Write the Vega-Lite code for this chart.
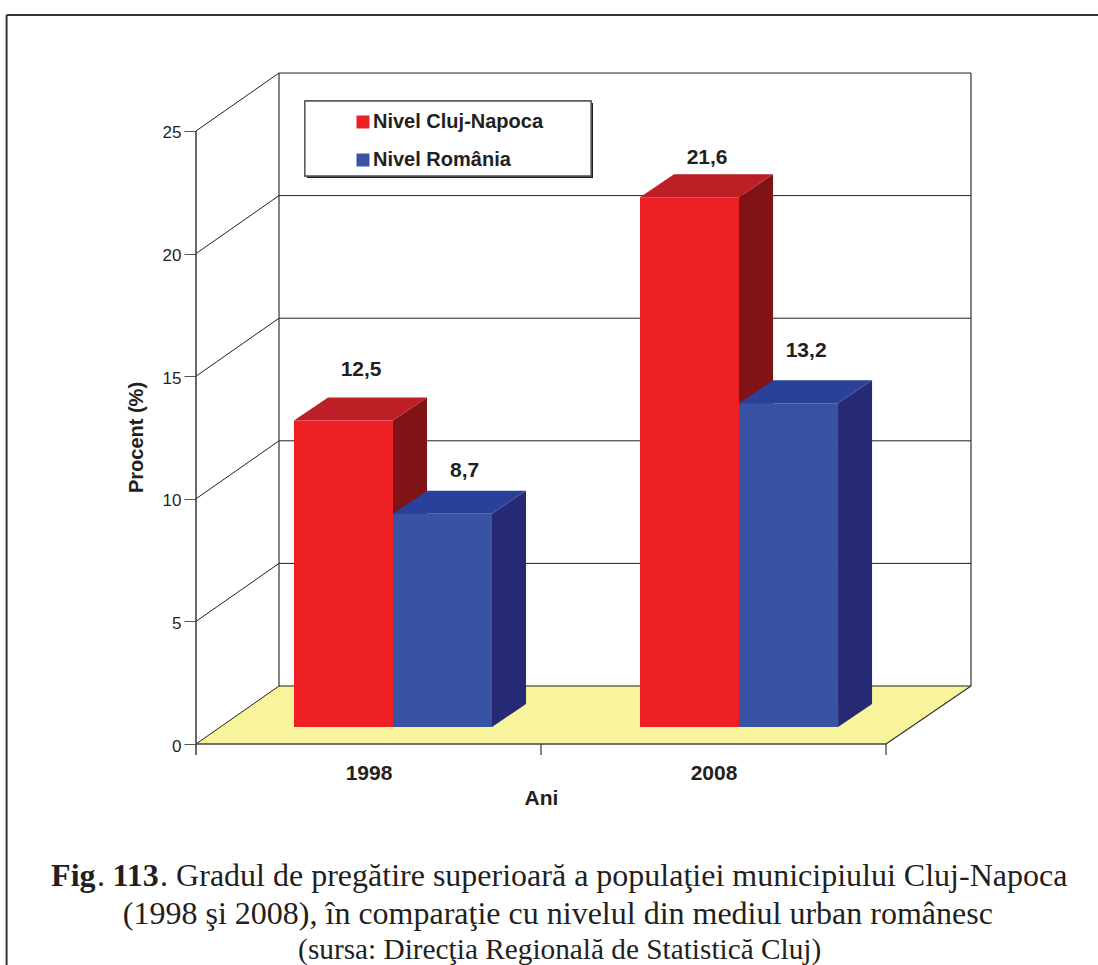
{
"$schema":"https://vega.github.io/schema/vega-lite/v6.json",
"autosize":{"type":"none"},
"padding":{"left":196,"top":73,"right":127,"bottom":221},
"width":775,"height":671,
"background":"white",
"config":{"view":{"stroke":null},"text":{"font":"Liberation Sans","color":"#231f20"}},
"data":{"values":[
{"year":"1998","series":"Nivel Cluj-Napoca","value":12.5},
{"year":"1998","series":"Nivel România","value":8.7},
{"year":"2008","series":"Nivel Cluj-Napoca","value":21.6},
{"year":"2008","series":"Nivel România","value":13.2}
]},
"transform":[
{"calculate":"datum.year+datum.series","as":"id"},
{"calculate":"(datum.year==='1998'?0:1.003)+0.284+(datum.series==='Nivel România'?0.287:0)","as":"x0"},
{"calculate":"datum.x0+0.287","as":"x1"},
{"calculate":"0.693","as":"base"},
{"calculate":"datum.base+datum.value","as":"top"}
],
"resolve":{"scale":{"color":"independent"}},
"layer":[
{"data":{"values":[{"x":0,"y":0,"y2":0},{"x":0.2406,"y":2.365,"y2":0},{"x":2,"y":2.365,"y2":0},{"x":2.2464,"y":2.365,"y2":2.365}]},
 "transform":[],
 "mark":{"type":"area","color":"#f7f49c"},
 "encoding":{
  "x":{"field":"x","type":"quantitative","scale":{"domain":[0,2.2464],"nice":false,"zero":false},
   "axis":{"values":[0.5,1.5],"labelExpr":"datum.value<1?'1998':'2008'","ticks":false,"domain":false,"grid":false,"labelFont":"Liberation Sans","labelFontWeight":"bold","labelFontSize":21,"labelColor":"#231f20","labelPadding":18,"labelFlush":false,"title":"Ani","titleFont":"Liberation Sans","titleFontWeight":"bold","titleFontSize":21,"titleColor":"#231f20","titleX":345,"titleY":54,"titleBaseline":"middle","titleAlign":"center"}},
  "y":{"field":"y","type":"quantitative","stack":null,"scale":{"domain":[0,27.365],"nice":false,"zero":false},
   "axis":{"values":[0,5,10,15,20,25],"domain":false,"grid":false,"tickSize":12,"tickColor":"#555555","tickWidth":1,"labelFont":"Liberation Sans","labelFontSize":17,"labelColor":"#231f20","labelPadding":3,"labelOffset":2,"title":"Procent (%)","titleFont":"Liberation Sans","titleFontWeight":"bold","titleFontSize":20,"titleColor":"#231f20","titleX":-60,"titleY":364,"titleAngle":-90,"titleAlign":"center","titleBaseline":"middle"}},
  "y2":{"field":"y2"}
 }},
{"data":{"values":[{"tick":0},{"tick":5},{"tick":10},{"tick":15},{"tick":20},{"tick":25}]},
 "transform":[{"calculate":"datum.tick+2.365","as":"back"}],
 "layer":[
  {"mark":{"type":"rule","color":"#231f20","strokeWidth":1},
   "encoding":{"x":{"datum":0.2406,"type":"quantitative"},"x2":{"datum":2.2464},"y":{"field":"back","type":"quantitative"}}},
  {"mark":{"type":"rule","color":"#231f20","strokeWidth":1},
   "encoding":{"x":{"datum":0,"type":"quantitative"},"x2":{"datum":0.2406},"y":{"field":"tick","type":"quantitative"},"y2":{"field":"back"}}}
 ]},
{"data":{"values":[
  {"x":0.2406,"x2":0.2406,"y":2.365,"y2":27.365},
  {"x":2.2464,"x2":2.2464,"y":2.365,"y2":27.365},
  {"x":2,"x2":2.2464,"y":0,"y2":2.365},
  {"x":1,"x2":1,"y":-0.45,"y2":0},
  {"x":2,"x2":2,"y":-0.45,"y2":0}
 ]},
 "transform":[],
 "mark":{"type":"rule","color":"#333333","strokeWidth":1.2},
 "encoding":{"x":{"field":"x","type":"quantitative"},"x2":{"field":"x2"},"y":{"field":"y","type":"quantitative"},"y2":{"field":"y2"}}},
{"data":{"values":[
  {"x":0,"x2":0,"y":-0.45,"y2":25},
  {"x":0,"x2":2,"y":0,"y2":0}
 ]},
 "transform":[],
 "mark":{"type":"rule","color":"#444444","strokeWidth":1.6},
 "encoding":{"x":{"field":"x","type":"quantitative"},"x2":{"field":"x2"},"y":{"field":"y","type":"quantitative"},"y2":{"field":"y2"}}},
{"data":{"values":[
  {"x":-0.549,"x2":-0.549,"y":-9.1,"y2":29.73},
  {"x":-0.549,"x2":2.62,"y":29.73,"y2":29.73}
 ]},
 "transform":[],
 "mark":{"type":"rule","color":"#333333","strokeWidth":2},
 "encoding":{"x":{"field":"x","type":"quantitative"},"x2":{"field":"x2"},"y":{"field":"y","type":"quantitative"},"y2":{"field":"y2"}}},
{"transform":[{"calculate":"[0,1]","as":"t"},{"flatten":["t"]},
  {"calculate":"datum.x1+datum.t*0.0986","as":"px"},
  {"calculate":"datum.top+datum.t*0.938","as":"py"},
  {"calculate":"datum.base+datum.t*0.938","as":"py2"}],
 "mark":{"type":"area"},
 "encoding":{
  "x":{"field":"px","type":"quantitative"},
  "y":{"field":"py","type":"quantitative","stack":null},
  "y2":{"field":"py2"},
  "detail":{"field":"id"},
  "color":{"field":"series","type":"nominal","legend":null,"scale":{"domain":["Nivel Cluj-Napoca","Nivel România"],"range":["#7f1315","#262a74"]}}
 }},
{"transform":[{"calculate":"[0,1,2,3]","as":"t"},{"flatten":["t"]},
  {"calculate":"datum.t==0?datum.x0:datum.t==1?datum.x0+0.0986:datum.t==2?datum.x1:datum.x1+0.0986","as":"px"},
  {"calculate":"datum.t==0?datum.top:datum.top+0.938","as":"py"},
  {"calculate":"datum.t==3?datum.top+0.938:datum.top","as":"py2"}],
 "mark":{"type":"area"},
 "encoding":{
  "x":{"field":"px","type":"quantitative"},
  "y":{"field":"py","type":"quantitative","stack":null},
  "y2":{"field":"py2"},
  "detail":{"field":"id"},
  "color":{"field":"series","type":"nominal","legend":null,"scale":{"domain":["Nivel Cluj-Napoca","Nivel România"],"range":["#bc2026","#2b4098"]}}
 }},
{"mark":{"type":"rect","color":"#231f20"},
 "encoding":{"x":{"datum":0.3217,"type":"quantitative"},"x2":{"datum":1.1507},"y":{"datum":26.14,"type":"quantitative"},"y2":{"datum":23.08}}},
{"mark":{"type":"rect","fill":"white","stroke":"#555555","strokeWidth":1.2},
 "encoding":{"x":{"datum":0.3159,"type":"quantitative"},"x2":{"datum":1.1449},"y":{"datum":26.22,"type":"quantitative"},"y2":{"datum":23.17}}},
{"mark":{"type":"rect"},
 "encoding":{
  "x":{"field":"x0","type":"quantitative"},
  "x2":{"field":"x1"},
  "y":{"field":"base","type":"quantitative"},
  "y2":{"field":"top"},
  "color":{"field":"series","type":"nominal","scale":{"domain":["Nivel Cluj-Napoca","Nivel România"],"range":["#ee2024","#3953a4"]},
   "legend":{"title":null,"orient":"none","legendX":157,"legendY":39,"symbolType":"square","symbolSize":169,"symbolStrokeWidth":0,"labelFont":"Liberation Sans","labelFontWeight":"bold","labelFontSize":20,"labelColor":"#231f20","labelOffset":0,"labelLimit":400,"rowPadding":18,"padding":0}}
 }},
{"transform":[
  {"calculate":"replace(format(datum.value,'.1f'),'.',',')","as":"label"},
  {"calculate":"datum.x0+0.1435+(datum.id==='1998Nivel România'?0.064:0.051)","as":"lx"},
  {"calculate":"datum.top+(datum.year==='1998'?(datum.series==='Nivel România'?1.75:2.04):(datum.series==='Nivel România'?2.12:1.59))","as":"ly"}],
 "mark":{"type":"text","fontWeight":"bold","fontSize":21,"baseline":"middle","align":"center"},
 "encoding":{"x":{"field":"lx","type":"quantitative"},"y":{"field":"ly","type":"quantitative"},"text":{"field":"label"}}},
{"data":{"values":[
  {"t":"Fig","x":-0.42,"y":-5.8},
  {"t":"113","x":-0.242,"y":-5.8}
 ]},
 "transform":[],
 "mark":{"type":"text","font":"Liberation Serif","fontWeight":"bold","fontSize":32,"align":"left","baseline":"alphabetic"},
 "encoding":{"x":{"field":"x","type":"quantitative"},"y":{"field":"y","type":"quantitative"},"text":{"field":"t"}}},
{"data":{"values":[
  {"t":".","x":-0.287,"y":-5.8},
  {"t":". Gradul de pregătire superioară a populaţiei municipiului Cluj-Napoca","x":-0.104,"y":-5.8},
  {"t":"(1998 şi 2008), în comparaţie cu nivelul din mediul urban românesc","x":-0.212,"y":-7.35}
 ]},
 "transform":[],
 "mark":{"type":"text","font":"Liberation Serif","fontSize":32,"align":"left","baseline":"alphabetic"},
 "encoding":{"x":{"field":"x","type":"quantitative"},"y":{"field":"y","type":"quantitative"},"text":{"field":"t"}}},
{"data":{"values":[
  {"t":"(sursa: Direcţia Regională de Statistică Cluj)","x":0.296,"y":-8.77}
 ]},
 "transform":[],
 "mark":{"type":"text","font":"Liberation Serif","fontSize":29.3,"align":"left","baseline":"alphabetic"},
 "encoding":{"x":{"field":"x","type":"quantitative"},"y":{"field":"y","type":"quantitative"},"text":{"field":"t"}}}
]
}
